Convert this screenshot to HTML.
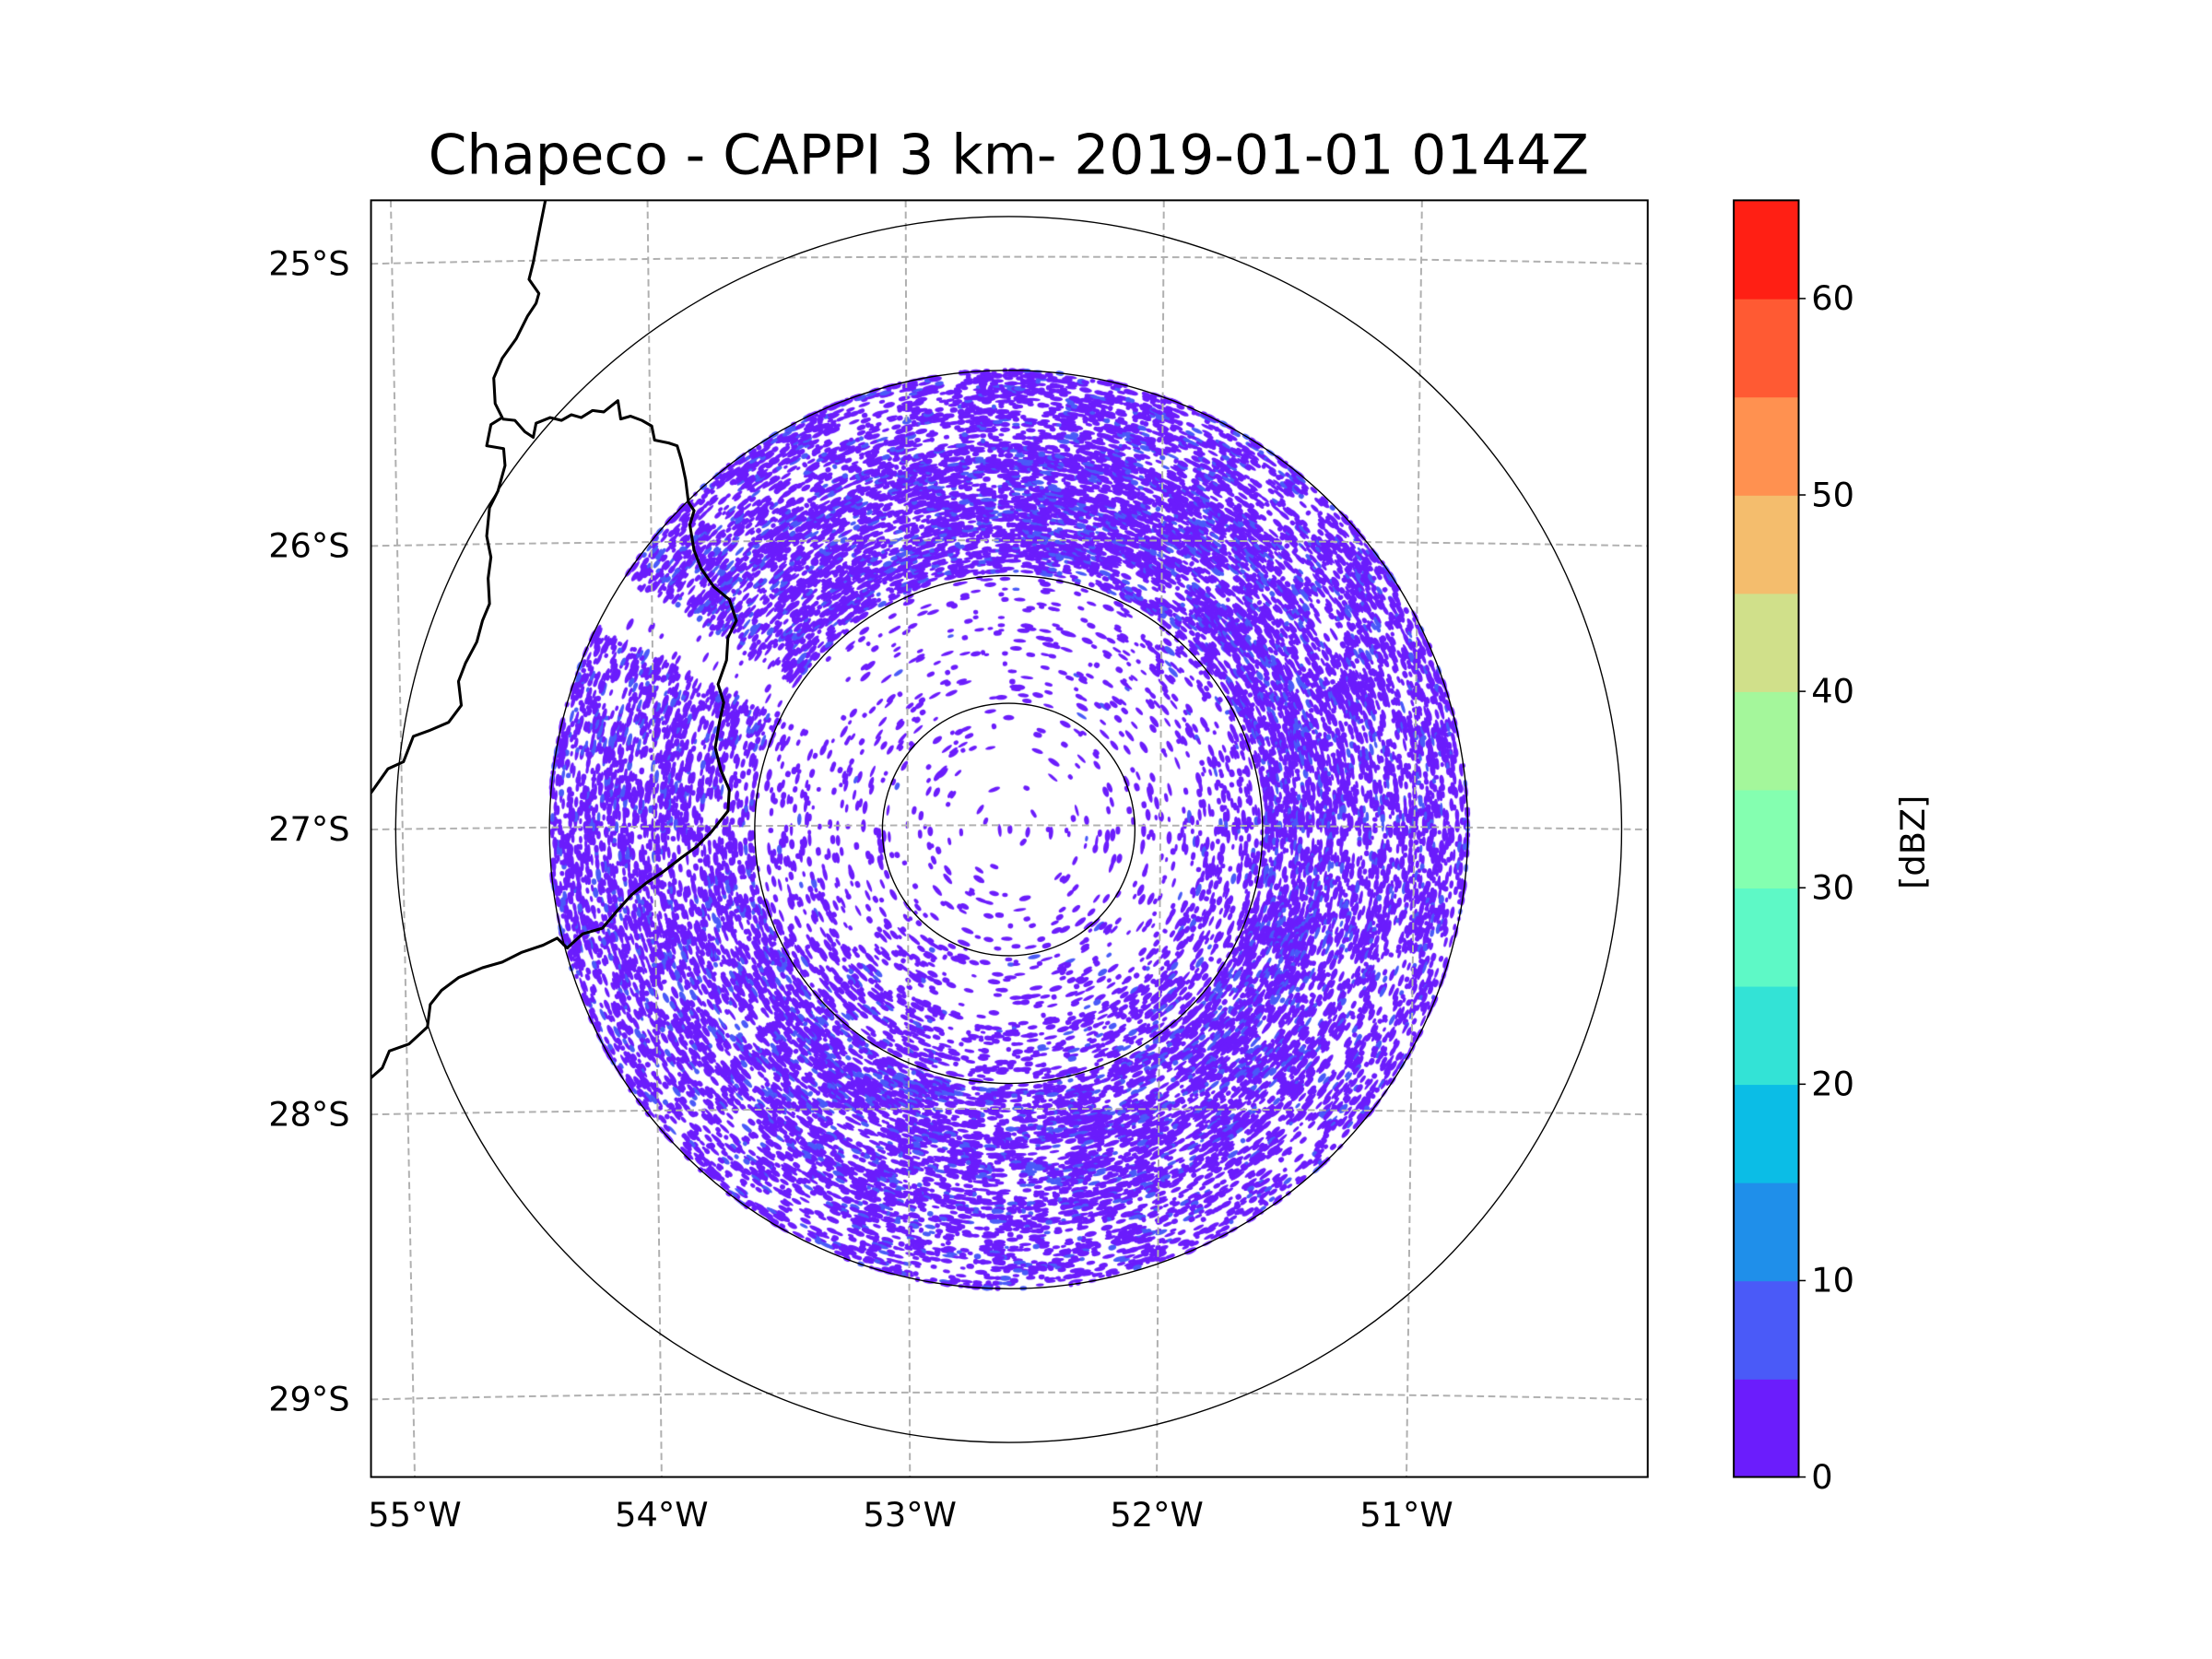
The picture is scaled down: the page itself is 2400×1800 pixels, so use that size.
<!DOCTYPE html>
<html><head><meta charset="utf-8"><style>
html,body{margin:0;padding:0;background:#fff;}
#wrap{position:relative;width:2400px;height:1800px;overflow:hidden;}
#radar{position:absolute;left:0;top:0;}
svg{position:absolute;left:0;top:0;}
text{font-family:"DejaVu Sans","Liberation Sans",sans-serif;fill:#000;}
</style></head><body>
<div id="wrap">
<canvas id="radar" width="2400" height="1800"></canvas>
<svg id="fig" width="2400" height="1800" viewBox="0 0 1568 1176">
<defs><clipPath id="axclip"><rect x="263" y="142" width="905" height="905"/></clipPath></defs>
<text x="715" y="123" font-size="39" text-anchor="middle">Chapeco - CAPPI 3 km- 2019-01-01 0144Z</text>
<g id="grid" clip-path="url(#axclip)"></g>
<g id="rings"></g>
<g id="borders" clip-path="url(#axclip)"></g>
<rect x="263" y="142" width="905" height="905" fill="none" stroke="#000" stroke-width="1.3"/>
<g id="lab"></g>
<g id="cbar"></g>
<text transform="translate(1364,597) rotate(-90)" font-size="24" text-anchor="middle">[dBZ]</text>
</svg>
</div>
<script>
// ---- data ----
const latTicks = ["25°S","26°S","27°S","28°S","29°S"];
const lonTicks = ["55°W","54°W","53°W","52°W","51°W"];
const cbarTicks = [0,10,20,30,40,50,60];
const cbarLevels = [0,5,10,15,20,25,30,35,40,45,50,55,60,65];
const cbarColors = ["#6b1dfc","#4a5af8","#1f8fea","#0bbde6","#33e3d6","#5ef9c6","#84ffb0","#a4f79b","#d0e08a","#f4bd6d","#ff9150","#ff5a33","#ff1f14"];
// echo coverage fraction by azimuth sector (N, NE, E, SE, S, SW, W, NW) and range bin
const rangeBinsKm = [0,35,70,105,140,175,210,250];
const sectorNames = ["N","NE","E","SE","S","SW","W","NW"];
const coverage = [
 [0.02,0.06,0.10,0.12,0.85,0.80,0.60],
 [0.02,0.06,0.10,0.18,0.80,0.75,0.60],
 [0.02,0.07,0.10,0.35,0.80,0.60,0.50],
 [0.02,0.07,0.12,0.40,0.85,0.65,0.45],
 [0.02,0.08,0.14,0.25,0.85,0.65,0.42],
 [0.02,0.08,0.18,0.45,0.80,0.60,0.45],
 [0.02,0.07,0.12,0.18,0.45,0.55,0.55],
 [0.02,0.06,0.08,0.08,0.60,0.70,0.55]
];

// ---- geometry (preview units; scale to output) ----
const S = 2400/1568;
const cx = 715, cy = 588;
const pxPerKm = 325.5/250;
const NS="http://www.w3.org/2000/svg";
function el(tag,attrs,parent){const e=document.createElementNS(NS,tag);for(const k in attrs)e.setAttribute(k,attrs[k]);parent.appendChild(e);return e;}

const grid=document.getElementById('grid');
const lonTop=[277,459,642,825,1008], lonBot=[294,469,645,820,997];
lonTicks.forEach((t,i)=>{
  const l=el('line',{x1:lonTop[i],y1:142,x2:lonBot[i],y2:1047,stroke:"#b0b0b0","stroke-width":1.3,"stroke-dasharray":"5,3"},grid);
  
  
});
const latL=[187,387,588,790,992], latM=[182,383,585,786,987];
latTicks.forEach((t,i)=>{
  const p=el('path',{d:`M263 ${latL[i]} Q715 ${2*latM[i]-latL[i]} 1168 ${latL[i]}`,fill:"none",stroke:"#b0b0b0","stroke-width":1.3,"stroke-dasharray":"5,3"},grid);
  
  
});
const lab=document.getElementById('lab');
latTicks.forEach((t,i)=>{
  const e=el('text',{x:248,y:latL[i]+8,"font-size":24,"text-anchor":"end"},lab); e.textContent=t;
  
  
});
lonTicks.forEach((t,i)=>{
  const e=el('text',{x:lonBot[i],y:1082,"font-size":24,"text-anchor":"middle"},lab); e.textContent=t;
  
  
});
const rings=document.getElementById('rings');
const ringPx=[89.5,180,325.5,434.5];
ringPx.forEach(r=>{
  const c=el('circle',{cx:cx,cy:cy,r:r,fill:"none",stroke:"#000","stroke-width":0.9},rings);
  
  
});
const borders=document.getElementById('borders');
const b1=[[387,140],[383,160],[378,186],[375,198],[382,208],[380,215],[374,224],[366,240],[356,254],[350,268],[351,286],[356,296],[348,301],[345,316],[357,318],[358,330],[353,348],[347,360],[345,380],[348,395],[346,410],[347,428],[342,440],[338,455],[330,470],[325,483],[327,500],[318,512],[304,518],[293,522],[286,540],[275,545],[263,562]];
const b2=[[356,297],[365,298],[372,306],[378,310],[380,300],[390,296],[398,298],[405,294],[412,296],[420,291],[428,292],[433,288],[438,284],[440,297],[447,295],[455,298],[462,302],[464,312],[474,314],[480,316],[483,326],[486,340],[488,356],[492,362],[489,372],[492,390],[497,403],[506,416],[517,425],[522,440],[516,452],[515,468],[509,485],[513,498],[510,512],[507,530],[511,546],[517,560],[516,575],[504,590],[494,600],[483,608],[470,618],[458,626],[448,634],[438,645],[427,658],[413,662],[402,672],[395,665],[385,670],[370,675],[356,682],[342,686],[325,693],[313,702],[305,712],[303,728],[290,740],[276,745],[271,757],[263,764]];
[b1,b2].forEach(pts=>{
  const p=el('polyline',{points:pts.map(q=>q.join(',')).join(' '),fill:"none",stroke:"#000","stroke-width":2,"stroke-linejoin":"round"},borders);
  
  
});
const cbar=document.getElementById('cbar');
const cbX=1229,cbW=46,cbTop=142,cbBot=1047;
const vY=v=>cbBot-(v-cbarLevels[0])/(cbarLevels[cbarLevels.length-1]-cbarLevels[0])*(cbBot-cbTop);
cbarColors.forEach((c,i)=>{
  const r=el('rect',{x:cbX,y:vY(cbarLevels[i+1]),width:cbW,height:vY(cbarLevels[i])-vY(cbarLevels[i+1])+0.5,fill:c},cbar);
  
  
});
el('rect',{x:cbX,y:cbTop,width:cbW,height:cbBot-cbTop,fill:"none",stroke:"#000","stroke-width":1.3},cbar);
cbarTicks.forEach(v=>{
  el('line',{x1:cbX+cbW,x2:cbX+cbW+5,y1:vY(v),y2:vY(v),stroke:"#000","stroke-width":1},cbar);
  const t=el('text',{x:cbX+cbW+9,y:vY(v)+8,"font-size":24},cbar); t.textContent=v;
  
  
});

// radar speckles
const cv=document.getElementById('radar'),ctx=cv.getContext('2d');
ctx.scale(S,S);
function hash(a,b,c){let h=(a*374761393+b*668265263+c*1442695041)|0;h=Math.imul(h^(h>>>13),1274126177);h^=h>>>16;return (h>>>0)/4294967296;}
function smooth(u,v,seed){const iu=Math.floor(u),iv=Math.floor(v),fu=u-iu,fv=v-iv;
  const a=hash(iu,iv,seed),b=hash(iu+1,iv,seed),c=hash(iu,iv+1,seed),d=hash(iu+1,iv+1,seed);
  const su=fu*fu*(3-2*fu),sv=fv*fv*(3-2*fv);
  return (a*(1-su)+b*su)*(1-sv)+(c*(1-su)+d*su)*sv;}
function cov(azDeg,rKm){
  const nb=rangeBinsKm.length-1; let bi=nb-1;
  for(let i=0;i<nb;i++){if(rKm<rangeBinsKm[i+1]){bi=i;break;}}
  const f=((azDeg%360)+360)%360/45; const s0=Math.floor(f)%8,s1=(s0+1)%8,w=f-Math.floor(f);
  let c=coverage[s0][bi]*(1-w)+coverage[s1][bi]*w;
  if(azDeg>296&&azDeg<304&&rKm>110) c*=0.05;
  return c;
}
const maxKm=rangeBinsKm[rangeBinsKm.length-1];
for(let ri=0;ri*1.4<maxKm;ri++){
  const rKm=ri*1.4+0.7; const rpx=rKm*pxPerKm;
  const nAz=Math.max(8,Math.floor(2*Math.PI*rpx/2.6));
  for(let ai=0;ai<nAz;ai++){
    const az=ai/nAz*360;
    let c=cov(az,rKm);
    const n=smooth(az/4,rKm/6,3);
    c=Math.min(1,c*(0.35+1.3*n));
    const h=hash(ri,ai,7);
    if(h<c*0.55){
      const th=(az-90)*Math.PI/180;
      const x=cx+rpx*Math.cos(th), y=cy+rpx*Math.sin(th);
      const len=1.6+hash(ri,ai,3)*3.2, wid=1.0+hash(ri,ai,5)*1.0;
      const blue=hash(ri,ai,11)<c*0.22;
      ctx.fillStyle=blue?"#4a5af8":"#6b1dfc";
      ctx.beginPath();
      ctx.ellipse(x,y,len,wid,th+Math.PI/2,0,2*Math.PI);
      ctx.fill();
    }
  }
}
</script>
</body></html>
